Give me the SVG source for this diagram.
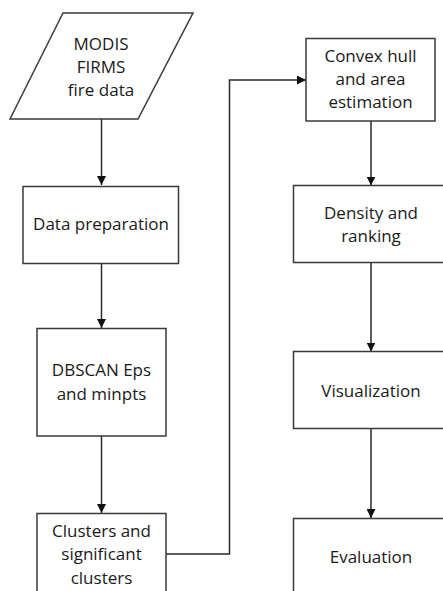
<svg xmlns="http://www.w3.org/2000/svg" width="443" height="591" viewBox="0 0 443 591">
<defs>
<marker id="arr" markerWidth="10" markerHeight="9" refX="9" refY="4.5" orient="auto" markerUnits="userSpaceOnUse">
<path d="M0,0 L9,4.5 L0,9 Z" fill="#111"/>
</marker>
<style>
.shape{fill:#fff;stroke:#3a3a3a;stroke-width:1.5}
.conn{fill:none;stroke:#2a2a2a;stroke-width:1.5;marker-end:url(#arr)}
text{font-family:"Open Sans","Noto Sans","Liberation Sans",sans-serif;font-size:17px;fill:#1a1a1a;text-anchor:middle}
</style>
</defs>
<rect width="443" height="591" fill="#fff"/>
<g id="connectors">
<path class="conn" d="M101.5,119 V185"/>
<path class="conn" d="M101.5,263 V328"/>
<path class="conn" d="M101.5,436 V513"/>
<path class="conn" d="M166,554 H229.5 V80 H306"/>
<path class="conn" d="M371,121 V185.5"/>
<path class="conn" d="M371,262.5 V351.5"/>
<path class="conn" d="M371,429 V518"/>
</g>
<g id="modis">
<polygon class="shape" points="63,13 193,13 138,119 10,119"/>
<text x="101" y="50">MODIS</text>
<text x="101" y="73">FIRMS</text>
<text x="101" y="96">fire data</text>
</g>
<g id="data-prep">
<rect class="shape" x="23" y="186.5" width="155.5" height="77"/>
<text x="101" y="230">Data preparation</text>
</g>
<g id="dbscan">
<rect class="shape" x="37" y="328.5" width="129" height="107.5"/>
<text x="101.5" y="376">DBSCAN Eps</text>
<text x="101.5" y="400">and minpts</text>
</g>
<g id="clusters">
<rect class="shape" x="37" y="513.5" width="129" height="90"/>
<text x="101.5" y="537">Clusters and</text>
<text x="101.5" y="560">significant</text>
<text x="101.5" y="583.5">clusters</text>
</g>
<g id="convex">
<rect class="shape" x="306" y="38.5" width="129" height="82.5"/>
<text x="370.5" y="62">Convex hull</text>
<text x="370.5" y="85">and area</text>
<text x="370.5" y="108">estimation</text>
</g>
<g id="density">
<rect class="shape" x="293.5" y="185.5" width="157" height="77"/>
<text x="371" y="218.5">Density and</text>
<text x="371" y="241.5">ranking</text>
</g>
<g id="visualization">
<rect class="shape" x="293.5" y="351.5" width="157" height="77"/>
<text x="371" y="396.5">Visualization</text>
</g>
<g id="evaluation">
<rect class="shape" x="293.5" y="518.5" width="157" height="90"/>
<text x="371" y="562.5">Evaluation</text>
</g>
</svg>
